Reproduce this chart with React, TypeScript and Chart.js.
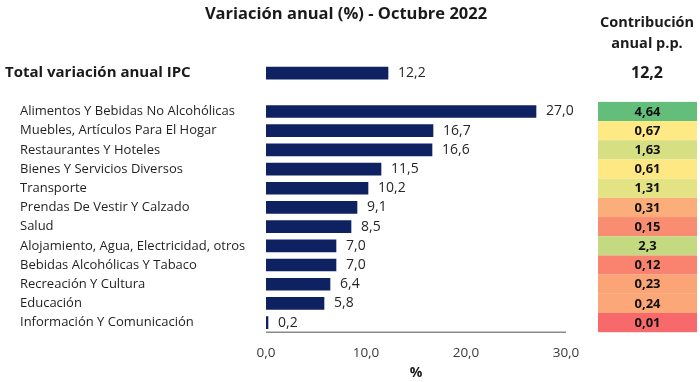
import React, { useEffect, useRef } from "react";
import { Chart, registerables } from "chart.js";

Chart.register(...registerables);

const chartTitle = "Variación anual (%) - Octubre 2022";
const contribHeader = ["Contribución", "anual p.p."];
const totalLabel = "Total variación anual IPC";
const totalValue = 12.2;
const totalContribution = 12.2;
const categories = [
  "Alimentos Y Bebidas No Alcohólicas",
  "Muebles, Artículos Para El Hogar",
  "Restaurantes Y Hoteles",
  "Bienes Y Servicios Diversos",
  "Transporte",
  "Prendas De Vestir Y Calzado",
  "Salud",
  "Alojamiento, Agua, Electricidad, otros",
  "Bebidas Alcohólicas Y Tabaco",
  "Recreación Y Cultura",
  "Educación",
  "Información Y Comunicación",
];
const values = [27.0, 16.7, 16.6, 11.5, 10.2, 9.1, 8.5, 7.0, 7.0, 6.4, 5.8, 0.2];
const contributions = [4.64, 0.67, 1.63, 0.61, 1.31, 0.31, 0.15, 2.3, 0.12, 0.23, 0.24, 0.01];
const contributionColors = [
  "#63BE7B",
  "#FEE984",
  "#D6DF82",
  "#FEE883",
  "#E3E383",
  "#FBAE79",
  "#F98D72",
  "#C4DA80",
  "#F9836F",
  "#FBA577",
  "#FBA777",
  "#F8696B",
];
const xMin = 0;
const xMax = 30;
const xStep = 10;
const xAxisTitle = "%";

const BAR_COLOR = "#0E2262";
const FONT = "'Open Sans', sans-serif";

const fmt1 = (v: number) => v.toFixed(1).replace(".", ",");
const fmtC = (v: number) => String(v).replace(".", ",");

export default function App() {
  const canvasRef = useRef<HTMLCanvasElement | null>(null);

  useEffect(() => {
    const canvas = canvasRef.current;
    if (!canvas) return;
    const labels = [totalLabel, "", ...categories];
    const data: (number | null)[] = [totalValue, null, ...values];

    const overlay = {
      id: "overlay",
      afterDraw(chart: any) {
        const ctx = chart.ctx as CanvasRenderingContext2D;
        const ys = chart.scales.y;
        const xs = chart.scales.x;
        const slot = (ys.bottom - ys.top) / labels.length;
        ctx.save();
        ctx.textBaseline = "middle";

        // x axis line
        ctx.strokeStyle = "#8a8a8a";
        ctx.lineWidth = 1.5;
        ctx.beginPath();
        ctx.moveTo(xs.left, ys.bottom);
        ctx.lineTo(xs.right, ys.bottom);
        ctx.stroke();

        // x axis title
        ctx.fillStyle = "#1a1a1a";
        ctx.textAlign = "center";
        ctx.font = `bold 14px ${FONT}`;
        ctx.fillText(xAxisTitle, (xs.left + xs.right) / 2, 373);

        // title
        ctx.font = `bold 16.5px ${FONT}`;
        ctx.fillText(chartTitle, 346, 14);

        // contribution header
        ctx.font = `bold 14.5px ${FONT}`;
        ctx.fillText(contribHeader[0], 647, 23);
        ctx.fillText(contribHeader[1], 647, 44);

        labels.forEach((lab, i) => {
          const py = ys.getPixelForValue(i);
          const v = data[i];
          if (i === 0) {
            ctx.font = `bold 15px ${FONT}`;
            ctx.textAlign = "left";
            ctx.fillStyle = "#1a1a1a";
            ctx.fillText(lab, 5, py);
            ctx.font = `bold 16px ${FONT}`;
            ctx.textAlign = "center";
            ctx.fillText(fmtC(totalContribution), 647, py);
          } else if (lab) {
            ctx.font = `13px ${FONT}`;
            ctx.textAlign = "left";
            ctx.fillStyle = "#1f1f1f";
            ctx.fillText(lab, 20, py);
            const ci = i - 2;
            ctx.fillStyle = contributionColors[ci];
            ctx.fillRect(598, py - slot / 2, 99, slot);
            ctx.fillStyle = "#111";
            ctx.font = `bold 13px ${FONT}`;
            ctx.textAlign = "center";
            ctx.fillText(fmtC(contributions[ci]), 647.5, py + 0.5);
          }
          if (v !== null && v !== undefined) {
            ctx.font = `14px ${FONT}`;
            ctx.textAlign = "left";
            ctx.fillStyle = "#262626";
            ctx.fillText(fmt1(v), xs.getPixelForValue(v) + 10, py);
          }
        });
        ctx.restore();
      },
    };

    const chart = new Chart(canvas, {
      type: "bar",
      data: {
        labels,
        datasets: [
          {
            data,
            backgroundColor: BAR_COLOR,
            borderWidth: 0,
            barThickness: 12,
          },
        ],
      },
      options: {
        indexAxis: "y",
        animation: false,
        responsive: false,
        maintainAspectRatio: false,
        layout: { padding: { left: 266, right: 134, top: 63.5, bottom: 7.6 } },
        plugins: {
          legend: { display: false },
          tooltip: { enabled: false },
          title: { display: false },
        },
        scales: {
          y: { type: "category", display: false },
          x: {
            type: "linear",
            min: xMin,
            max: xMax,
            ticks: {
              stepSize: xStep,
              padding: 13,
              color: "#3a3a3a",
              font: { family: FONT, size: 13.5 },
              callback: (v: any) => fmt1(Number(v)),
            },
            grid: { display: false, drawTicks: false },
            border: { display: false },
            title: { display: false },
          },
        },
      },
      plugins: [overlay],
    } as any);
    return () => chart.destroy();
  }, []);

  return (
    <div style={{ position: "absolute", left: 0, top: 0, width: 700, height: 382 }}>
      <canvas ref={canvasRef} width={700} height={382} style={{ display: "block" }} />
    </div>
  );
}
